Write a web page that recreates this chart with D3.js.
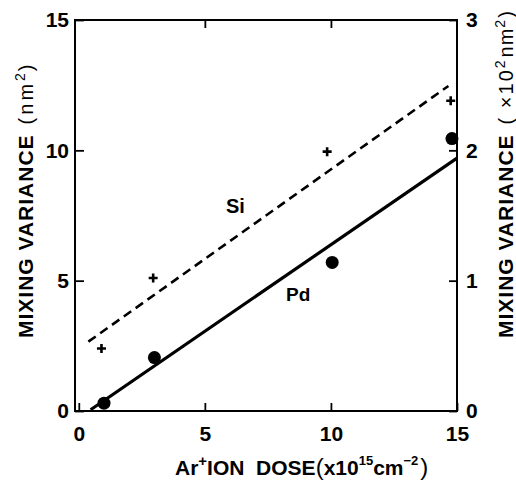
<!DOCTYPE html>
<html><head><meta charset="utf-8">
<script src="https://cdn.jsdelivr.net/npm/d3@7"></script>
<style>
body{margin:0;background:#fff;}
svg{display:block;font-family:"Liberation Sans",Arial,sans-serif;}
</style></head><body>
<svg id="c" width="516" height="484"></svg>
<script>
const xTicks = [0, 5, 10, 15];
const yTicks = [0, 5, 10, 15];
const y2Ticks = [0, 1, 2, 3];
const siDose = [0.9, 2.95, 9.85, 14.75];
const siVar = [2.4, 5.1, 9.95, 11.9];
const pdDose = [1.0, 3.0, 10.05, 14.8];
const pdVar = [0.3, 2.05, 5.7, 10.45];
const siFit = [[0.38, 2.66], [14.66, 12.47]];
const pdFit = [[0.47, 0.05], [15.0, 9.7]];

const svg = d3.select("#c");
const L = 75, R = 457, T = 20, B = 411;
const x = d3.scaleLinear().domain([-0.15, 15]).range([L, R]);
const y = d3.scaleLinear().domain([0, 15]).range([B, T]);
const y2 = d3.scaleLinear().domain([0, 3]).range([B, T]);

svg.append("rect").attr("x", L).attr("y", T).attr("width", R - L).attr("height", B - T)
  .attr("fill", "none").attr("stroke", "#000").attr("stroke-width", 2);

function styleAxis(g){
  g.select(".domain").remove();
  g.selectAll("line").attr("stroke", "#000").attr("stroke-width", 1.8);
  g.selectAll("text").attr("fill", "#000").attr("font-size", 21).attr("font-weight", "bold")
    .attr("font-family", "Liberation Sans, Arial, sans-serif");
}
const fmt = d3.format("d");
svg.append("g").attr("transform", `translate(0,${B})`)
  .call(d3.axisBottom(x).tickValues(xTicks).tickFormat(fmt).tickSizeInner(-8).tickSizeOuter(0).tickPadding(15))
  .call(styleAxis);
svg.append("g").attr("transform", `translate(0,${T})`)
  .call(d3.axisTop(x).tickValues([5, 10]).tickSizeInner(-8).tickSizeOuter(0).tickFormat(""))
  .call(styleAxis);
svg.append("g").attr("transform", `translate(${L},0)`)
  .call(d3.axisLeft(y).tickValues(yTicks).tickFormat(fmt).tickSizeInner(-9).tickSizeOuter(0).tickPadding(6))
  .call(styleAxis);
svg.append("g").attr("transform", `translate(${R},0)`)
  .call(d3.axisRight(y2).tickValues(y2Ticks).tickFormat(fmt).tickSizeInner(-8).tickSizeOuter(0).tickPadding(9))
  .call(styleAxis);

const line = d3.line().x(d => x(d[0])).y(d => y(d[1]));
svg.append("path").datum(siFit).attr("d", line).attr("fill", "none")
  .attr("stroke", "#000").attr("stroke-width", 2.6).attr("stroke-dasharray", "9,5.5");
svg.append("path").datum(pdFit).attr("d", line).attr("fill", "none")
  .attr("stroke", "#000").attr("stroke-width", 3.2);

const si = siDose.map((d, i) => [d, siVar[i]]);
svg.append("g").selectAll("path").data(si).join("path")
  .attr("d", d => `M${x(d[0]) - 4.5},${y(d[1])}h9M${x(d[0])},${y(d[1]) - 4.5}v9`)
  .attr("stroke", "#000").attr("stroke-width", 2.6);
const pd = pdDose.map((d, i) => [d, pdVar[i]]);
svg.append("g").selectAll("circle").data(pd).join("circle")
  .attr("cx", d => x(d[0])).attr("cy", d => y(d[1])).attr("r", 6.5).attr("fill", "#000");

svg.append("text").attr("x", 226).attr("y", 213).attr("font-size", 20).attr("font-weight", "bold").text("Si");
svg.append("text").attr("x", 286).attr("y", 301).attr("font-size", 19).attr("font-weight", "bold").text("Pd");

// left title
const lt = svg.append("text").attr("transform", "translate(33,338) rotate(-90)")
  .attr("font-size", 21).attr("font-weight", "bold");
lt.append("tspan").attr("letter-spacing", 1).text("MIXING VARIANCE");
lt.append("tspan").attr("font-weight", "normal").attr("font-size", 20).attr("dx", 10).attr("letter-spacing", 3).text("(nm");
lt.append("tspan").attr("font-weight", "normal").attr("font-size", 14).attr("dy", -8).text("2");
lt.append("tspan").attr("font-weight", "normal").attr("font-size", 20).attr("dy", 8).attr("dx", 2).text(")");

// right title
const rt = svg.append("text").attr("transform", "translate(513,338) rotate(-90)")
  .attr("font-size", 21).attr("font-weight", "bold");
rt.append("tspan").attr("letter-spacing", 1).text("MIXING VARIANCE");
rt.append("tspan").attr("font-weight", "normal").attr("font-size", 20).attr("dx", 10).attr("letter-spacing", 2).text("( ×10");
rt.append("tspan").attr("font-weight", "normal").attr("font-size", 14).attr("dy", -8).text("2");
rt.append("tspan").attr("font-weight", "normal").attr("font-size", 20).attr("dy", 8).attr("dx", 3).attr("letter-spacing", 1).text("nm");
rt.append("tspan").attr("font-weight", "normal").attr("font-size", 14).attr("dy", -8).text("2");
rt.append("tspan").attr("font-weight", "normal").attr("font-size", 20).attr("dy", 8).attr("dx", 2).text(")");

// x title
const xt = svg.append("text").attr("x", 175).attr("y", 475).attr("font-size", 21).attr("font-weight", "bold")
  .style("white-space", "pre");
xt.append("tspan").text("Ar");
xt.append("tspan").attr("font-size", 15).attr("dy", -9).text("+");
xt.append("tspan").attr("dy", 9).text("ION  DOSE");
xt.append("tspan").attr("font-weight", "normal").attr("font-size", 24).text("(");
xt.append("tspan").text("x10");
xt.append("tspan").attr("font-size", 13).attr("dy", -10).text("15");
xt.append("tspan").attr("dy", 10).text("cm");
xt.append("tspan").attr("font-size", 13).attr("dy", -10).text("−2");
xt.append("tspan").attr("font-weight", "normal").attr("font-size", 24).attr("dy", 10).attr("dx", 2).text(")");
</script>
</body></html>
